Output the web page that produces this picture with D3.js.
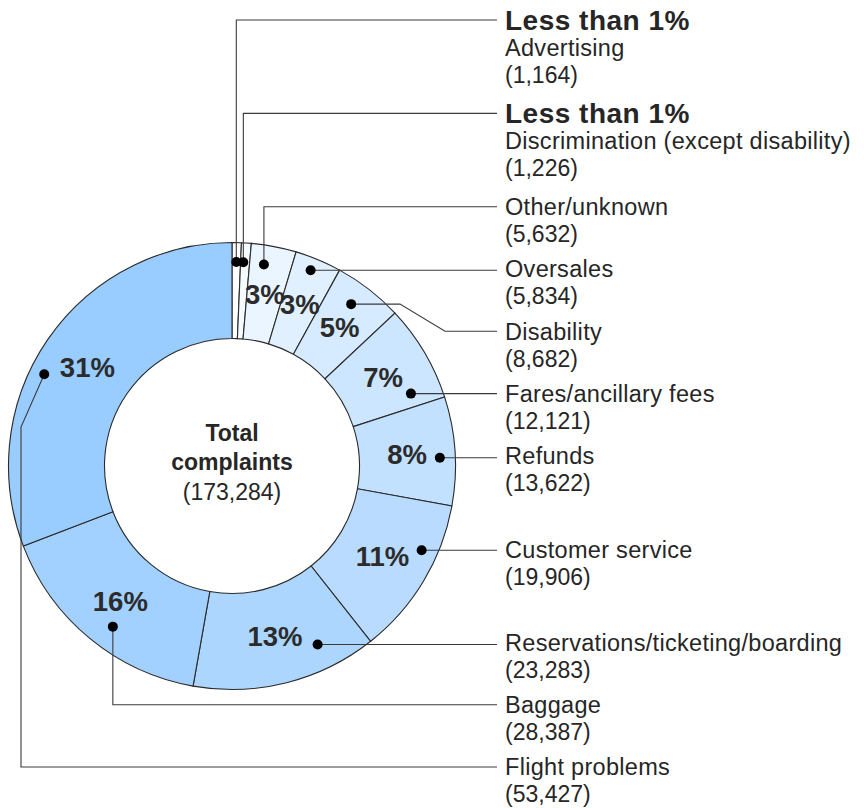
<!DOCTYPE html>
<html>
<head>
<meta charset="utf-8">
<script src="https://cdn.jsdelivr.net/npm/d3@7"></script>
<style>
  body { margin: 0; background: #fff; }
  svg text { font-family: "Liberation Sans", Arial, sans-serif; fill: #262626; }
</style>
</head>
<body>
<div id="chart"></div>
<script>
// complaint categories, clockwise from 12 o'clock
var categories = ["Advertising", "Discrimination (except disability)", "Other/unknown", "Oversales",
                  "Disability", "Fares/ancillary fees", "Refunds", "Customer service",
                  "Reservations/ticketing/boarding", "Baggage", "Flight problems"];
var complaints = [1164, 1226, 5632, 5834, 8682, 12121, 13622, 19906, 23283, 28387, 53427];
var centerTitle = ["Total", "complaints"];

var width = 864, height = 808;
var cx = 232, cy = 466;
var outerR = 223.5, innerR = 127.5;
var labelX = 505, leaderEndX = 497;

var total = d3.sum(complaints);
var fmt = d3.format(",");

// annotation layout: label slot on the right, dot spot inside the slice (fraction of the angle, radius)
var annot = [
    {slot: 0,  f: 0.5,   r: 204,   leader: "v"},
    {slot: 3,  f: 0.3,   r: 204,   leader: "v"},
    {slot: 6,  f: 0.345, r: 204,   leader: "v"},
    {slot: 8,  f: 0.43,  r: 211,   leader: "h"},
    {slot: 10, f: 0.42,  r: 201,   leader: "bend", bendX: 400},
    {slot: 12, f: 0.84,  r: 193,   leader: "h"},
    {slot: 14, f: 0.555, r: 208,   leader: "h"},
    {slot: 17, f: 0.33,  r: 207.5, leader: "h"},
    {slot: 20, f: 0.263, r: 198,   leader: "h"},
    {slot: 22, f: 0.45,  r: 200,   leader: "v"},
    {slot: 24, f: 0.424, r: 209,   leader: "out", elbowX: 21, elbowY: 427}
];

var slotY = d3.scaleLinear().domain([0, 24]).range([20, 767]);

var color = d3.scaleLinear()
    .domain([0, categories.length - 1])
    .range(["#ffffff", "#99ccff"])
    .interpolate(d3.interpolateRgb);

var svg = d3.select("#chart")
    .append("svg")
    .attr("width", width)
    .attr("height", height);

var g = svg.append("g")
    .attr("transform", "translate(" + cx + "," + cy + ")");

var pie = d3.pie().sort(null).value(function(d){ return d; });
var arcs = pie(complaints);

var arc = d3.arc().innerRadius(innerR).outerRadius(outerR);

g.selectAll(".slice")
    .data(arcs)
    .enter().append("path")
    .attr("class", "slice")
    .attr("d", arc)
    .style("fill", function(d, i){ return color(i); })
    .style("stroke", "#2a2a2a")
    .style("stroke-width", 1.1);

function pctText(v){
    var p = v / total * 100;
    return p < 1 ? "Less than 1%" : Math.round(p) + "%";
}

// percentages inside the ring
g.selectAll(".pct")
    .data(arcs.filter(function(d){ return d.value / total >= 0.01; }))
    .enter().append("text")
    .attr("class", "pct")
    .attr("x", function(d){ return arc.centroid(d)[0]; })
    .attr("y", function(d){ return arc.centroid(d)[1]; })
    .attr("dy", "0.36em")
    .attr("text-anchor", "middle")
    .style("font-size", "27.5px")
    .style("font-weight", "bold")
    .style("fill", "#2b2b2b")
    .text(function(d){ return pctText(d.value); });

// dots (absolute coordinates)
function dotPos(d, i){
    var a = annot[i];
    var ang = d.startAngle + a.f * (d.endAngle - d.startAngle);
    return [cx + a.r * Math.sin(ang), cy - a.r * Math.cos(ang)];
}

var leaders = arcs.map(function(d, i){
    var a = annot[i], p = dotPos(d, i), ly = slotY(a.slot), pts;
    if (a.leader === "v") pts = [p, [p[0], ly], [leaderEndX, ly]];
    else if (a.leader === "h") pts = [p, [leaderEndX, p[1]]];
    else if (a.leader === "bend") pts = [p, [a.bendX, p[1]], [a.bendX + 45, ly], [leaderEndX, ly]];
    else pts = [p, [a.elbowX, a.elbowY], [a.elbowX, ly], [leaderEndX, ly]];
    return {pts: pts, dot: p};
});

var line = d3.line();

svg.selectAll(".leader")
    .data(leaders)
    .enter().append("path")
    .attr("class", "leader")
    .attr("d", function(d){ return line(d.pts); })
    .style("fill", "none")
    .style("stroke", "#3a3a3a")
    .style("stroke-width", 1.1);

svg.selectAll(".dot")
    .data(leaders)
    .enter().append("circle")
    .attr("class", "dot")
    .attr("cx", function(d){ return d.dot[0]; })
    .attr("cy", function(d){ return d.dot[1]; })
    .attr("r", 5)
    .style("fill", "#000");

// labels on the right
var labels = svg.selectAll(".label")
    .data(arcs)
    .enter().append("text")
    .attr("class", "label")
    .style("font-size", "23.5px");

labels.each(function(d, i){
    var t = d3.select(this);
    var y = slotY(annot[i].slot) + 8.4;
    if (d.value / total < 0.01) {
        t.append("tspan")
            .attr("x", labelX).attr("y", y + 1.5)
            .style("font-weight", "bold")
            .style("font-size", "28px")
            .style("letter-spacing", "0.5px")
            .text(pctText(d.value));
        y += 27.5;
    }
    t.append("tspan").attr("x", labelX).attr("y", y)
        .style("letter-spacing", "0.3px")
        .text(categories[i]);
    t.append("tspan").attr("x", labelX).attr("y", y + 27)
        .style("font-size", "23px")
        .text("(" + fmt(d.value) + ")");
});

// center text
var center = svg.append("text")
    .attr("text-anchor", "middle")
    .style("font-size", "23px");
center.append("tspan").attr("x", cx).attr("y", 441).style("font-weight", "bold").text(centerTitle[0]);
center.append("tspan").attr("x", cx).attr("y", 470).style("font-weight", "bold").text(centerTitle[1]);
center.append("tspan").attr("x", cx).attr("y", 499.5).text("(" + fmt(total) + ")");
</script>
</body>
</html>
